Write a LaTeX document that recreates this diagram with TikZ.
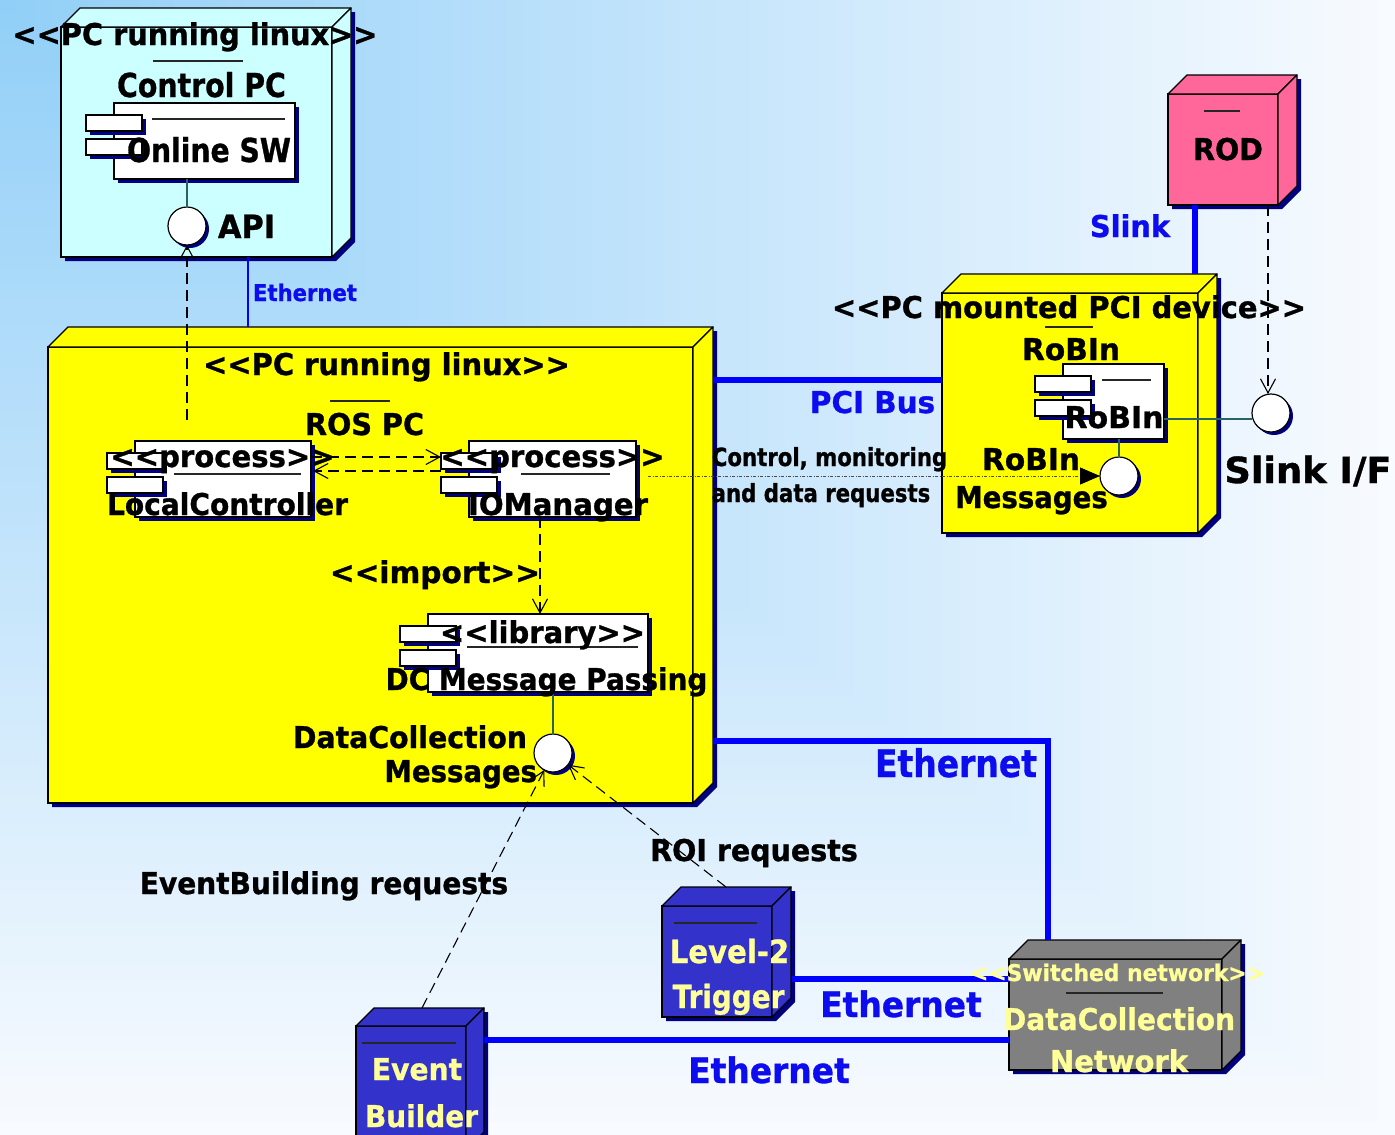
\documentclass[tikz,border=0pt]{standalone}
\usepackage{fontspec}
\setmainfont{DejaVu Sans}
% label face without TeX ligatures, so that << and >> stay as typed
\newfontfamily\lblfont{DejaVu Sans}[BoldFeatures={FakeBold=1.0}]
\usepackage{graphicx}
\usetikzlibrary{arrows.meta,calc}

\definecolor{navyshadow}{RGB}{0,0,128}
\definecolor{cyanbox}{RGB}{204,255,255}
\definecolor{yellowbox}{RGB}{255,255,0}
\definecolor{pinkbox}{RGB}{255,102,153}
\definecolor{bluebox}{RGB}{51,51,204}
\definecolor{graybox}{RGB}{128,128,128}
\definecolor{linkblue}{RGB}{0,0,255}
\definecolor{lblblue}{RGB}{12,12,238}
\definecolor{paleyellow}{RGB}{255,255,153}
\definecolor{tealline}{RGB}{40,100,100}

% bold label text: size (pt), horizontal squeeze, text
\newcommand\lbltext[3]{{\lblfont\fontsize{#1}{#1}\selectfont\bfseries\scalebox{#2}[1]{#3}}}

% UML node drawn as a box with depth: name, x1, y1, x2, y2, depth, fill
\newcommand\cubebox[7]{%
  \fill[navyshadow, shift={(4,4)}] (#2,#5) -- (#4,#5) -- ({#4+#6},{#5-#6}) -- ({#4+#6},{#3-#6}) -- ({#2+#6},{#3-#6}) -- (#2,#3) -- cycle;
  \node[cubefront, fill=#7, minimum width={(#4-#2)*1pt}, minimum height={(#5-#3)*1pt}] (#1) at ({(#2+#4)/2},{(#3+#5)/2}) {};
  \draw[cubeedge, fill=#7] (#1.north west) -- ++(#6,-#6) -- ([shift={(#6,-#6)}]#1.north east) -- (#1.north east) -- cycle;
  \draw[cubeedge, fill=#7] (#1.north east) -- ++(#6,-#6) -- ([shift={(#6,-#6)}]#1.south east) -- (#1.south east) -- cycle;
  \coordinate (#1-btl) at ([shift={(#6,-#6)}]#1.north west);
}

% UML component with two tabs: name, x1, y1, x2, y2
\newcommand\compbox[5]{%
  \fill[navyshadow] ({#2+4},{#3+4}) rectangle ({#4+4},{#5+4});
  \node[compbody, minimum width={(#4-#2)*1pt}, minimum height={(#5-#3)*1pt}] (#1) at ({(#2+#4)/2},{(#3+#5)/2}) {};
  \foreach \ty in {12,36}{
    \fill[navyshadow] ({#2-24},{#3+\ty+4}) rectangle ({#2+32},{#3+\ty+20});
    \draw[compedge, fill=white] ({#2-28},{#3+\ty}) rectangle ({#2+28},{#3+\ty+16});
  }
}

% interface lollipop: name, x, y
\newcommand\iface[3]{%
  \fill[navyshadow] ({#2+3},{#3+3}) circle (19pt);
  \node[ifc] (#1) at (#2,#3) {};
}

\begin{document}
\begin{tikzpicture}[x=1pt,y=-1pt,
  cubefront/.style={rectangle, draw=black, line width=1.3pt, inner sep=0pt, outer sep=0pt},
  cubeedge/.style={draw=black, line width=1.3pt, line join=round},
  compbody/.style={rectangle, draw=black, line width=1.2pt, fill=white, inner sep=0pt, outer sep=0pt},
  compedge/.style={draw=black, line width=1.2pt},
  ifc/.style={circle, draw=black, line width=1.2pt, fill=white, minimum size=38pt, inner sep=0pt, outer sep=0pt},
  sepline/.style={draw=black!85, line width=1.5pt},
  attach/.style={draw=tealline, line width=1.2pt},
  depend/.style={draw=black, line width=1.1pt, dash pattern=on 11pt off 6pt,
    -{Straight Barb[length=14pt,width=15pt,line width=1.1pt]}},
  msgflow/.style={draw=black!70, line width=0.9pt, dash pattern=on 3pt off 1.5pt on 1pt off 1.5pt,
    -{Triangle[length=20pt,width=17pt,color=black]}},
  wire/.style={draw=linkblue, line width=6.5pt},
  thinwire/.style={draw=linkblue, line width=1.3pt},
  lbl/.style={inner sep=0pt, outer sep=0pt, anchor=base},
]
\useasboundingbox (0,0) rectangle (1395,1135);
\clip (0,0) rectangle (1395,1135);

% background: gradient spreading from the top left corner
\foreach \i in {80,...,1}{
  \pgfmathsetmacro\bgt{\i/80}
  \pgfmathtruncatemacro\bgr{145+(248-145)*\bgt}
  \pgfmathtruncatemacro\bgg{207+(251-207)*\bgt}
  \pgfmathtruncatemacro\bgb{248+(255-248)*\bgt}
  \definecolor{bgstep}{RGB}{\bgr,\bgg,\bgb}
  \fill[bgstep] (0,0) rectangle ({1395*\bgt},{1135*\bgt});
}

% ---- Control PC
\cubebox{ctrl}{61}{27}{332}{257}{19}{cyanbox}
\draw[sepline] (153,61) -- (243,61);
\compbox{online}{114}{103}{295}{179}
\draw[sepline] (152,119) -- (285,119);
\iface{api}{187}{226}
\draw[attach] (api |- online.south) -- (api.north);

% ---- ROS PC
\cubebox{ros}{48}{347}{693}{803}{20}{yellowbox}
\draw[sepline] (330,401) -- (390,401);
\compbox{lc}{135}{441}{311}{517}
\draw[sepline] (174,474) -- (301,474);
\compbox{iom}{469}{441}{636}{517}
\draw[sepline] (521,474) -- (610,474);
\compbox{lib}{428}{614}{648}{692}
\draw[sepline] (467,647) -- (638,647);
\iface{dcmsg}{553}{753}
\draw[attach] (dcmsg |- lib.south) -- (dcmsg.north);

% ---- PCI device
\cubebox{pci}{942}{293}{1198}{533}{19}{yellowbox}
\draw[sepline] (1045,327) -- (1093,327);
\compbox{rob}{1063}{364}{1164}{439}
\draw[sepline] (1102,380) -- (1151,380);
\iface{rmsg}{1119}{476}
\draw[attach] (rmsg |- rob.south) -- (rmsg.north);
\iface{slinkif}{1271}{413}
\coordinate (robR) at ([yshift=-17.5pt]rob.east);
\draw[attach] (robR) -- (robR -| slinkif.west);

% ---- ROD
\cubebox{rod}{1168}{94}{1278}{205}{19}{pinkbox}
\draw[sepline] (1204,111) -- (1240,111);

% ---- Level-2, Event Builder, network
\cubebox{l2}{662}{906}{772}{1017}{19}{bluebox}
\draw[sepline] (674,923) -- (757,923);
\cubebox{eb}{356}{1026}{466}{1150}{18}{bluebox}
\draw[sepline] (362,1043) -- (456,1043);
\cubebox{net}{1009}{959}{1222}{1070}{19}{graybox}
\draw[sepline] (1066,993) -- (1163,993);

% ---- physical links
\coordinate (ethC) at ([xshift=51.5pt]ctrl.south);
\draw[thinwire] (ethC) -- (ethC |- ros-btl);
\coordinate (pciA) at (713,380);
\draw[wire] (pciA) -- (pciA -| pci.west);
\coordinate (slinkA) at ([xshift=-28pt]rod.south);
\draw[wire] (slinkA) -- (slinkA |- pci-btl);
\coordinate (ethA) at (713,741);
\draw[wire, line join=miter] (ethA) -| ([xshift=20pt]net-btl);
\coordinate (ethL2) at (792,979);
\draw[wire] (ethL2) -- (ethL2 -| net.west);
\coordinate (ethEB) at (484,1040);
\draw[wire] (ethEB) -- (ethEB -| net.west);

% ---- dependencies
\coordinate (apiFoot) at (187,420);
\draw[depend] (apiFoot) -- (api);
\draw[depend] ([yshift=22pt]lc.east) -- ([xshift=-28pt,yshift=22pt]iom.west);
\draw[depend] ([xshift=-28pt,yshift=8pt]iom.west) -- ([xshift=2pt,yshift=8pt]lc.east);
\coordinate (iomS) at ([xshift=-12.5pt]iom.south);
\draw[depend] (iomS) -- (iomS |- lib.north);
\coordinate (ebTop) at ([xshift=48pt]eb-btl);
\draw[depend] (ebTop) -- (dcmsg);
\coordinate (l2Top) at ([xshift=45pt]l2-btl);
\draw[depend] (l2Top) -- (dcmsg);
\coordinate (rodS) at ([xshift=45pt]rod.south);
\draw[depend] (rodS) -- (rodS |- slinkif.north);
\coordinate (ctrlS) at (648,476);
\draw[msgflow] (ctrlS) -- (rmsg.west);

% ---- labels: Control PC
\node[lbl] (tc1) at (195,45) {\lbltext{30}{0.96}{<<PC running linux>>}};
\node[lbl] (tc2) at (201.5,97) {\lbltext{33}{0.86}{Control PC}};
\node[lbl] (tc3) at (209,162) {\lbltext{33}{0.855}{Online SW}};
\node[lbl] (tc4) at (246.5,238) {\lbltext{32}{0.95}{API}};
\node[lbl, text=lblblue] (tc5) at (305,301) {\lbltext{23}{0.92}{Ethernet}};

% ---- labels: ROS PC
\node[lbl] (tm1) at (386.5,375) {\lbltext{30}{0.965}{<<PC running linux>>}};
\node[lbl] (tm2) at (364.5,435) {\lbltext{30}{0.955}{ROS PC}};
\node[lbl] (tm3) at (222.5,467) {\lbltext{30}{0.97}{<<process>>}};
\node[lbl] (tm4) at (227.5,515) {\lbltext{30}{0.936}{LocalController}};
\node[lbl] (tm5) at (552.5,467) {\lbltext{30}{0.97}{<<process>>}};
\node[lbl] (tm6) at (558,515) {\lbltext{30}{0.973}{IOManager}};
\node[lbl, anchor=base east] (tm7) at (540,583) {\lbltext{30}{0.985}{<<import>>}};
\node[lbl] (tm8) at (542.5,643) {\lbltext{30}{0.967}{<<library>>}};
\node[lbl] (tm9) at (546.5,690) {\lbltext{30}{0.93}{DC Message Passing}};
\node[lbl, anchor=base east] (tm10) at (527,748) {\lbltext{30}{0.945}{DataCollection}};
\node[lbl, anchor=base east] (tm11) at (537,782) {\lbltext{30}{0.92}{Messages}};

% ---- labels: requests
\node[lbl] (tr1) at (324,894) {\lbltext{30}{0.934}{EventBuilding requests}};
\node[lbl] (tr2) at (754,861) {\lbltext{30}{0.95}{ROI requests}};

% ---- labels: PCI device and ROD
\node[lbl] (tp1) at (1069,318) {\lbltext{30}{0.964}{<<PC mounted PCI device>>}};
\node[lbl] (tp2) at (1071,360) {\lbltext{30}{0.99}{RoBIn}};
\node[lbl] (tp3) at (1114,428) {\lbltext{30}{1.0}{RoBIn}};
\node[lbl] (tp4) at (1308,483) {\lbltext{36}{1.02}{Slink I/F}};
\node[lbl] (tp5) at (1031,470) {\lbltext{30}{0.99}{RoBIn}};
\node[lbl] (tp6) at (1031.5,508) {\lbltext{30}{0.92}{Messages}};
\node[lbl] (tp7) at (829.5,466) {\lbltext{25}{0.85}{Control, monitoring}};
\node[lbl] (tp8) at (821,502) {\lbltext{25}{0.85}{and data requests}};
\node[lbl, text=lblblue] (tp9) at (872.5,413) {\lbltext{30}{0.98}{PCI Bus}};
\node[lbl, text=lblblue] (tp10) at (1130,237) {\lbltext{30}{0.96}{Slink}};
\node[lbl] (tp11) at (1228,160) {\lbltext{30}{0.95}{ROD}};

% ---- labels: Ethernet links
\node[lbl, text=lblblue] (te1) at (956,777) {\lbltext{38}{0.868}{Ethernet}};
\node[lbl, text=lblblue] (te2) at (901,1017) {\lbltext{35}{0.94}{Ethernet}};
\node[lbl, text=lblblue] (te3) at (769,1083) {\lbltext{35}{0.94}{Ethernet}};

% ---- labels: Level-2, Event Builder, network
\node[lbl, text=paleyellow] (tb1) at (729.5,963) {\lbltext{32}{0.91}{Level-2}};
\node[lbl, text=paleyellow] (tb2) at (728.5,1008) {\lbltext{32}{0.87}{Trigger}};
\node[lbl, text=paleyellow] (tb3) at (417,1080) {\lbltext{30}{0.94}{Event}};
\node[lbl, text=paleyellow] (tb4) at (421.5,1127) {\lbltext{30}{0.93}{Builder}};
\node[lbl, text=paleyellow] (tn1) at (1117.5,981) {\lbltext{23}{0.95}{<<Switched network>>}};
\node[lbl, text=paleyellow] (tn2) at (1119,1030) {\lbltext{30}{0.937}{DataCollection}};
\node[lbl, text=paleyellow] (tn3) at (1119,1072) {\lbltext{30}{0.966}{Network}};
\end{tikzpicture}
\end{document}
